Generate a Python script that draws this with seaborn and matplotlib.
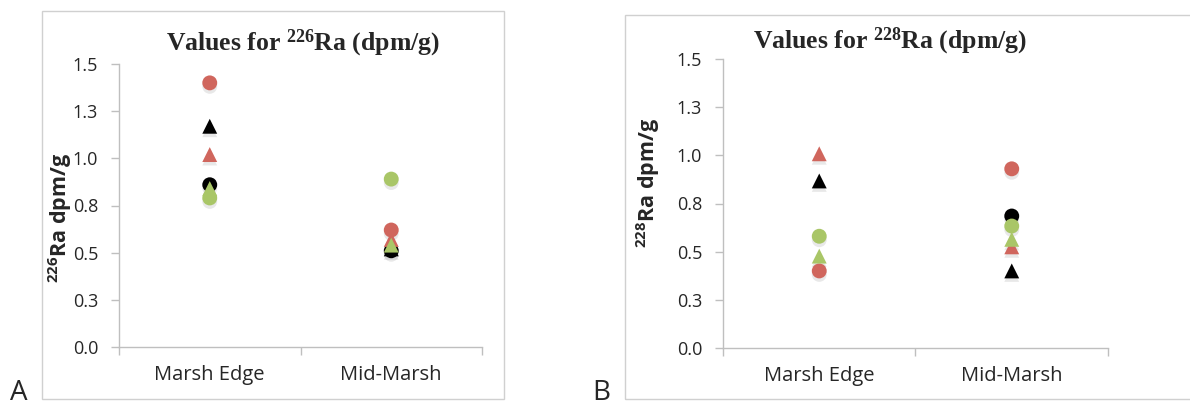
import matplotlib
matplotlib.use('Agg')
import matplotlib.pyplot as plt
import matplotlib.patheffects as pe
from matplotlib.patches import Rectangle
import numpy as np
import pandas as pd
import seaborn as sns

# categories and series (circles first, then triangles, in drawing order)
sites = ['Marsh Edge', 'Mid-Marsh']
series = ['circle black', 'circle red', 'circle green',
          'triangle black', 'triangle red', 'triangle green']

# 226Ra values (dpm/g), per series: [Marsh Edge, Mid-Marsh]
ra226 = {
    'circle black':   [0.86, 0.51],
    'circle red':     [1.40, 0.62],
    'circle green':   [0.79, 0.89],
    'triangle black': [1.17, 0.52],
    'triangle red':   [1.02, 0.57],
    'triangle green': [0.84, 0.54],
}

# 228Ra values (dpm/g) - black circle at Marsh Edge is not visible
ra228 = {
    'circle black':   [np.nan, 0.685],
    'circle red':     [0.40, 0.93],
    'circle green':   [0.58, 0.633],
    'triangle black': [0.867, 0.40],
    'triangle red':   [1.008, 0.525],
    'triangle green': [0.477, 0.564],
}

y_ticks = [0.0, 0.25, 0.5, 0.75, 1.0, 1.25, 1.5]
y_tick_labels = ['0.0', '0.3', '0.5', '0.8', '1.0', '1.3', '1.5']

colors = {'circle black': '#000000', 'circle red': '#D0665D', 'circle green': '#A9C667',
          'triangle black': '#000000', 'triangle red': '#D0665D', 'triangle green': '#A9C667'}
markers = {s: ('o' if s.startswith('circle') else '^') for s in series}


def to_frame(vals):
    rows = []
    for s in series:
        for site, v in zip(sites, vals[s]):
            rows.append({'site': site, 'series': s, 'value': v})
    df = pd.DataFrame(rows).dropna()
    df['site'] = pd.Categorical(df['site'], categories=sites)
    return df


sns.set_style('white')
plt.rcParams['mathtext.default'] = 'regular'

W, H = 1190, 407
fig = plt.figure(figsize=(W / 100, H / 100), dpi=100)

def fx(px):
    return px / W

def fy(py):
    return 1 - py / H

# panel frames
fig.add_artist(Rectangle((fx(42), fy(399)), fx(504 - 42), (399 - 11) / H,
                         fill=False, ec='#D0D0D0', lw=1, transform=fig.transFigure))
fig.add_artist(Rectangle((fx(625), fy(399)), fx(1200 - 625), (399 - 15) / H,
                         fill=False, ec='#D0D0D0', lw=1, transform=fig.transFigure))

panels = [
    dict(vals=ra226, box=(119, 482, 64, 347), iso='226', title_xy=(303, 43), ylab_xy=(60, 218)),
    dict(vals=ra228, box=(723, 1108, 59, 348), iso='228', title_xy=(890, 41), ylab_xy=(648, 183)),
]

for p in panels:
    l, r, t, b = p['box']
    ax = fig.add_axes([fx(l), fy(b), fx(r - l), (b - t) / H])
    df = to_frame(p['vals'])
    sns.scatterplot(data=df, x='site', y='value', hue='series', style='series',
                    palette=colors, markers=markers, hue_order=series, style_order=series,
                    s=115, linewidth=0, legend=False, ax=ax, zorder=3)
    for coll in ax.collections:
        coll.set_path_effects([pe.SimplePatchShadow(offset=(0, -2.5), shadow_rgbFace='#999999', alpha=0.22),
                               pe.Normal()])
    ax.set_xlim(-0.5, 1.5)
    ax.set_ylim(0, 1.5)
    ax.set_xticks([0, 1])
    ax.set_xticklabels(sites, fontsize=14.5, family='Open Sans')
    ax.set_xticks([-0.5, 0.5, 1.5], minor=True)
    ax.tick_params(axis='x', which='major', length=0, pad=13)
    ax.tick_params(axis='x', which='minor', length=6, width=1, color='#BFBFBF', direction='out', bottom=True)
    ax.set_yticks(y_ticks)
    ax.set_yticklabels(y_tick_labels, fontsize=13, family='Open Sans')
    ax.tick_params(axis='y', length=6, width=1, color='#BFBFBF', direction='out', left=True, pad=9)
    for sp in ['top', 'right']:
        ax.spines[sp].set_visible(False)
    for sp in ['left', 'bottom']:
        ax.spines[sp].set_color('#BFBFBF')
        ax.spines[sp].set_linewidth(1)
    ax.set_xlabel('')
    ax.set_ylabel('')
    ax.set_facecolor('none')

    tx, ty = p['title_xy']
    fig.text(fx(tx), fy(ty), r'Values for $^{%s}$Ra (dpm/g)' % p['iso'],
             family='Liberation Serif', fontweight='bold', fontsize=18.5, ha='center', va='center')
    lx, ly = p['ylab_xy']
    fig.text(fx(lx), fy(ly), r'$^{%s}$Ra dpm/g' % p['iso'], family='Open Sans', fontweight='bold',
             fontsize=15.5, rotation=90, ha='center', va='center')

fig.text(fx(19), fy(393), 'A', fontsize=20, family='Open Sans', ha='center', va='center')
fig.text(fx(601), fy(393), 'B', fontsize=20, family='Open Sans', ha='center', va='center')

fig.savefig('out.png', dpi=100)
